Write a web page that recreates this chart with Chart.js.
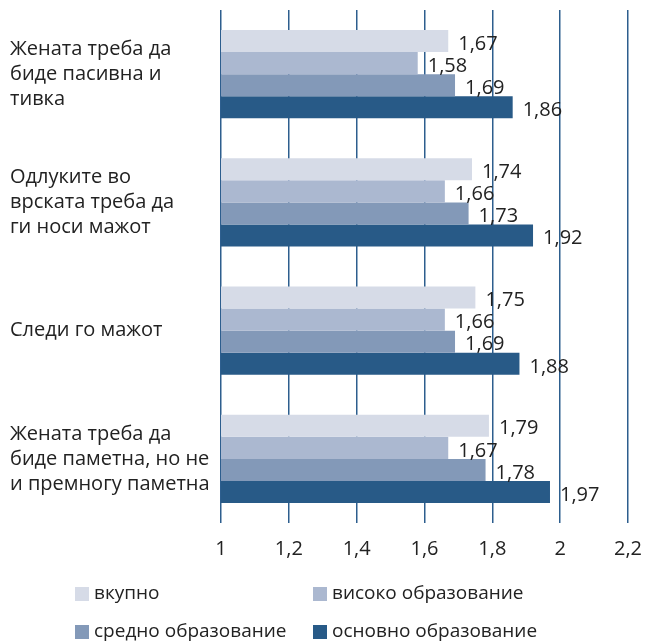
<!DOCTYPE html>
<html>
<head>
<meta charset="utf-8">
<script src="https://cdn.jsdelivr.net/npm/chart.js@4"></script>
<style>
  html, body { margin: 0; padding: 0; background: #fff; }
  #wrap { width: 646px; height: 644px; position: relative; }
</style>
</head>
<body>
<div id="wrap"><canvas id="c" width="646" height="644"></canvas></div>
<script>
// Statements (multi-line category labels)
const categories = [
  ['Жената треба да', 'биде пасивна и', 'тивка'],
  ['Одлуките во', 'врската треба да', 'ги носи мажот'],
  ['Следи го мажот'],
  ['Жената треба да', 'биде паметна, но не', 'и премногу паметна']
];

// Series by education level
const seriesNames = ['вкупно', 'високо образование', 'средно образование', 'основно образование'];
const vkupno  = [1.67, 1.74, 1.75, 1.79];
const visoko  = [1.58, 1.66, 1.66, 1.67];
const sredno  = [1.69, 1.73, 1.69, 1.78];
const osnovno = [1.86, 1.92, 1.88, 1.97];

// Axis range and tick labels
const xTicks = [1, 1.2, 1.4, 1.6, 1.8, 2, 2.2];
const xTickLabels = ['1', '1,2', '1,4', '1,6', '1,8', '2', '2,2'];

const colors = ['#d6dbe7', '#abb8d0', '#8399b8', '#285a87'];
const FONT = '"Open Sans", "Noto Sans", sans-serif';
const TEXT = '#222222';
const GRID = '#2d5e8e';

const fmt = v => v.toFixed(2).replace('.', ',');

// Value labels to the right of each bar
const valueLabels = {
  id: 'valueLabels',
  afterDatasetsDraw(chart) {
    const ctx = chart.ctx;
    ctx.save();
    ctx.font = '20px ' + FONT;
    ctx.fillStyle = TEXT;
    ctx.textAlign = 'left';
    ctx.textBaseline = 'middle';
    chart.data.datasets.forEach((ds, di) => {
      const meta = chart.getDatasetMeta(di);
      meta.data.forEach((bar, i) => {
        ctx.fillText(fmt(ds.data[i]), bar.x + 10, bar.y + 3);
      });
    });
    ctx.restore();
  }
};

// Two-column legend below the axis
const gridLegend = {
  id: 'gridLegend',
  afterDraw(chart) {
    const ctx = chart.ctx;
    ctx.save();
    ctx.font = '19px ' + FONT;
    ctx.textBaseline = 'middle';
    ctx.textAlign = 'left';
    const cols = [75, 313];
    const rows = [594, 632];
    chart.data.datasets.forEach((ds, i) => {
      const x = cols[i % 2];
      const y = rows[Math.floor(i / 2)];
      ctx.fillStyle = ds.backgroundColor;
      ctx.fillRect(x, y - 7, 14, 14);
      ctx.fillStyle = TEXT;
      ctx.fillText(ds.label, x + 19, y);
    });
    ctx.restore();
  }
};

const seriesData = [vkupno, visoko, sredno, osnovno];

new Chart(document.getElementById('c'), {
  type: 'bar',
  data: {
    labels: categories,
    datasets: seriesNames.map((name, i) => ({
      label: name,
      data: seriesData[i],
      backgroundColor: colors[i],
      borderWidth: 0,
      barPercentage: 1,
      categoryPercentage: 0.69
    }))
  },
  options: {
    indexAxis: 'y',
    responsive: false,
    animation: false,
    devicePixelRatio: 1,
    layout: { padding: { top: 10, right: 18, left: 10, bottom: 69 } },
    plugins: {
      legend: { display: false },
      tooltip: { enabled: false }
    },
    scales: {
      x: {
        min: 1,
        max: 2.2,
        afterBuildTicks(axis) {
          axis.ticks = xTicks.map(v => ({ value: v }));
        },
        afterFit(axis) {
          axis.paddingLeft = 0;
          axis.paddingRight = 0;
        },
        grid: { color: GRID, lineWidth: 1.5, drawTicks: false },
        border: { display: false },
        ticks: {
          padding: 14,
          color: TEXT,
          font: { size: 20, family: FONT },
          callback: (v) => xTickLabels[xTicks.indexOf(+Number(v).toFixed(1))] ?? ''
        }
      },
      y: {
        grid: { display: false, drawTicks: false },
        border: { display: false },
        afterFit(axis) {
          axis.width = 211;
          axis.paddingTop = 0;
          axis.paddingBottom = 0;
        },
        ticks: {
          crossAlign: 'far',
          padding: 0,
          color: TEXT,
          font: { size: 20, family: FONT, lineHeight: 1.25 }
        }
      }
    }
  },
  plugins: [valueLabels, gridLegend]
});
</script>
</body>
</html>
